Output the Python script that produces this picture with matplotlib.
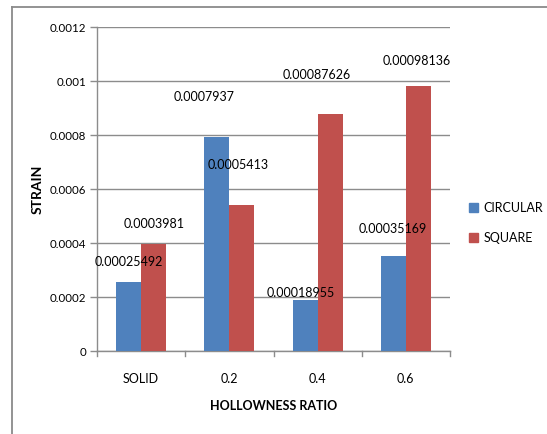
import matplotlib
matplotlib.use("Agg")
import matplotlib.pyplot as plt
from matplotlib.lines import Line2D
import numpy as np

plt.rcParams['font.family'] = ['Lato', 'DejaVu Sans']

categories = ["SOLID", "0.2", "0.4", "0.6"]
circular = [0.00025492, 0.0007937, 0.00018955, 0.00035169]
square = [0.0003981, 0.0005413, 0.00087626, 0.00098136]
circular_labels = ["0.00025492", "0.0007937", "0.00018955", "0.00035169"]
square_labels = ["0.0003981", "0.0005413", "0.00087626", "0.00098136"]
yticks = [0, 0.0002, 0.0004, 0.0006, 0.0008, 0.001, 0.0012]
ytick_labels = ["0", "0.0002", "0.0004", "0.0006", "0.0008", "0.001", "0.0012"]

BLUE = "#4F81BD"
RED = "#C0504D"
GRID = "#8C8C8C"

fig = plt.figure(figsize=(5.47, 4.34), dpi=100)
ax = fig.add_axes([97 / 547, 1 - 351 / 434, (450 - 97) / 547, (351 - 27) / 434])

x = np.arange(len(categories))
w = 0.284
ax.bar(x - w / 2, circular, w, color=BLUE, label="CIRCULAR", zorder=3)
ax.bar(x + w / 2, square, w, color=RED, label="SQUARE", zorder=3)

ax.set_xlim(-0.5, len(categories) - 0.5)
ax.set_ylim(0, 0.0012)
ax.set_yticks(yticks)
ax.set_yticklabels(ytick_labels, fontsize=8.3)
ax.set_xticks(x)
ax.set_xticklabels(categories, fontsize=9)
ax.tick_params(axis="x", length=0, pad=16)
ax.tick_params(axis="y", length=5, color=GRID, width=1, pad=3)

# category boundary ticks on the x axis
for b in np.arange(-0.5, len(categories), 1.0):
    ax.plot([b, b], [0, -0.00002], color=GRID, lw=1, clip_on=False, zorder=4)

ax.grid(axis="y", color=GRID, lw=1, zorder=0)
ax.set_axisbelow(True)
for side in ("top", "right"):
    ax.spines[side].set_visible(False)
for side in ("left", "bottom"):
    ax.spines[side].set_color(GRID)
    ax.spines[side].set_linewidth(1)

ax.set_ylabel("STRAIN", fontsize=10, fontweight="bold")
ax.yaxis.set_label_coords(-0.152, 0.5)
ax.set_xlabel("HOLLOWNESS RATIO", fontsize=9, fontweight="bold", labelpad=11)

# data labels with hand-placed offsets (pixels)
c_off = [(0, 20), (-13, 40), (-4, 7), (-1, 27)]
s_off = [(0, 20), (-4, 40), (-13, 39), (-2, 25)]
for i in range(len(categories)):
    ax.annotate(circular_labels[i], (x[i] - w / 2, circular[i]), xytext=c_off[i],
                textcoords="offset pixels", ha="center", va="center", fontsize=9,
                zorder=5)
    ax.annotate(square_labels[i], (x[i] + w / 2, square[i]), xytext=s_off[i],
                textcoords="offset pixels", ha="center", va="center", fontsize=9,
                zorder=5)

handles = [plt.Rectangle((0, 0), 1, 1, color=BLUE), plt.Rectangle((0, 0), 1, 1, color=RED)]
fig.legend(handles, ["CIRCULAR", "SQUARE"], loc="center left",
           bbox_to_anchor=(465 / 547, 1 - 223 / 434), frameon=False, fontsize=9,
           handlelength=0.75, handleheight=0.75, handletextpad=0.45, labelspacing=1.45,
           borderaxespad=0, borderpad=0.3)

# chart border
fig.add_artist(Line2D([12 / 547, 12 / 547], [0, 1 - 6.5 / 434], transform=fig.transFigure,
                      color="#8A8A8A", lw=1.3))
fig.add_artist(Line2D([12 / 547, 1], [1 - 6.5 / 434, 1 - 6.5 / 434], transform=fig.transFigure,
                      color="#8A8A8A", lw=1.3))

fig.savefig("out.png", dpi=100)
